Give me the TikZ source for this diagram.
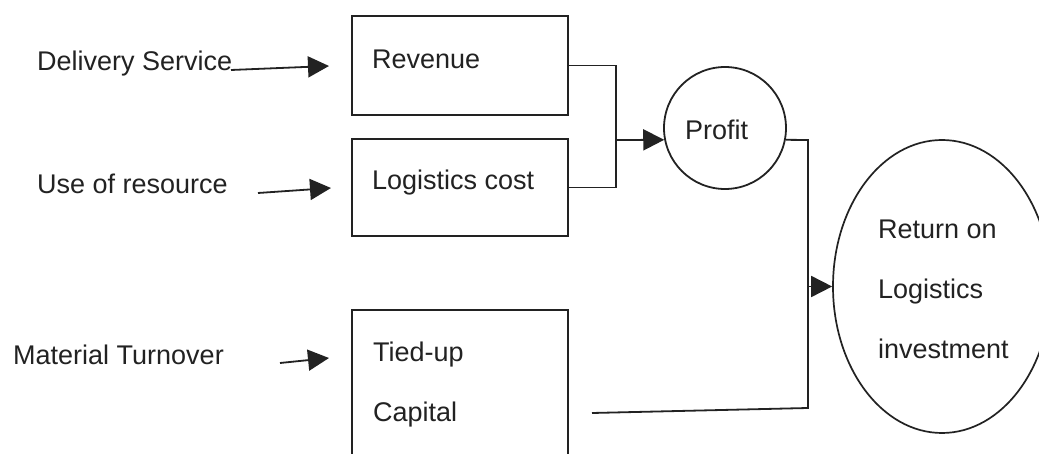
\documentclass[tikz,border=0pt]{standalone}
\usepackage{fontspec}
\setmainfont{Liberation Sans}
\usetikzlibrary{arrows.meta,shapes.geometric}
\definecolor{ink}{HTML}{222222}
\begin{document}
\begin{tikzpicture}[x=1pt,y=-1pt,
  every node/.style={font=\fontsize{27}{32}\selectfont, text=ink},
  box/.style={draw=ink, line width=2pt, minimum width=216pt, inner sep=0pt},
  lbl/.style={anchor=base west, inner sep=0pt},
  wire/.style={draw=ink, line width=1.8pt},
  arr/.style={wire, -{Triangle[length=21pt,width=21pt]}},
]
\useasboundingbox (0,0) rectangle (1039,454);
\clip (0,0) rectangle (1039,454);
\fill[white] (0,0) rectangle (1039,454);

% boxes
\node[box, minimum height=99pt]  (rev) at (460,65.5) {};
\node[box, minimum height=97pt]  (log) at (460,187.5) {};
\node[box, minimum height=200pt] (cap) at (460,410) {};

% box texts
\node[lbl] (revt) at (372,69)  {Revenue};
\node[lbl] (logt) at (372,190) {Logistics cost};
\node[lbl] (tiet) at (373,361) {Tied-up};
\node[lbl] (capt) at (373,421) {Capital};

% driver texts
\node[lbl] (ds) at (37,71)  {Delivery Service};
\node[lbl] (ur) at (37,194) {Use of resource};
\node[lbl] (mt) at (13,364) {Material Turnover};

% profit circle
\node[circle, draw=ink, line width=1.8pt, minimum size=122pt, inner sep=0pt] (profit) at (725,128) {};
\node[lbl] (pt) at (685,140) {Profit};

% return on investment ellipse
\node[ellipse, draw=ink, line width=1.7pt, minimum width=218pt, minimum height=293pt, inner sep=0pt] (roi) at (942,286.5) {};
\node[lbl] (roi1) at (878,239) {Return on};
\node[lbl] (roi2) at (878,299) {Logistics};
\node[lbl] (roi3) at (878,359) {investment};

% driver arrows
\coordinate (ds0) at (231,70);  \coordinate (ds1) at (329,66);
\coordinate (ur0) at (258,193); \coordinate (ur1) at (331,188);
\coordinate (mt0) at (280,363); \coordinate (mt1) at (329,358);
\draw[arr] (ds0) -- (ds1);
\draw[arr] (ur0) -- (ur1);
\draw[arr] (mt0) -- (mt1);

% revenue and cost join into profit
\coordinate (jn) at (616,140);
\draw[wire] (rev.east) -| (jn) |- (log.east);
\draw[arr] (jn) -- (profit.191);

% profit and capital feed the return
\coordinate (pk) at (808,140);
\coordinate (bend) at (808,408);
\coordinate (tail) at (592,413);
\draw[wire] (profit.349) -- (pk) -- (bend) -- (tail);
\draw[arr] (pk |- roi.west) -- (roi.west);
\end{tikzpicture}
\end{document}
